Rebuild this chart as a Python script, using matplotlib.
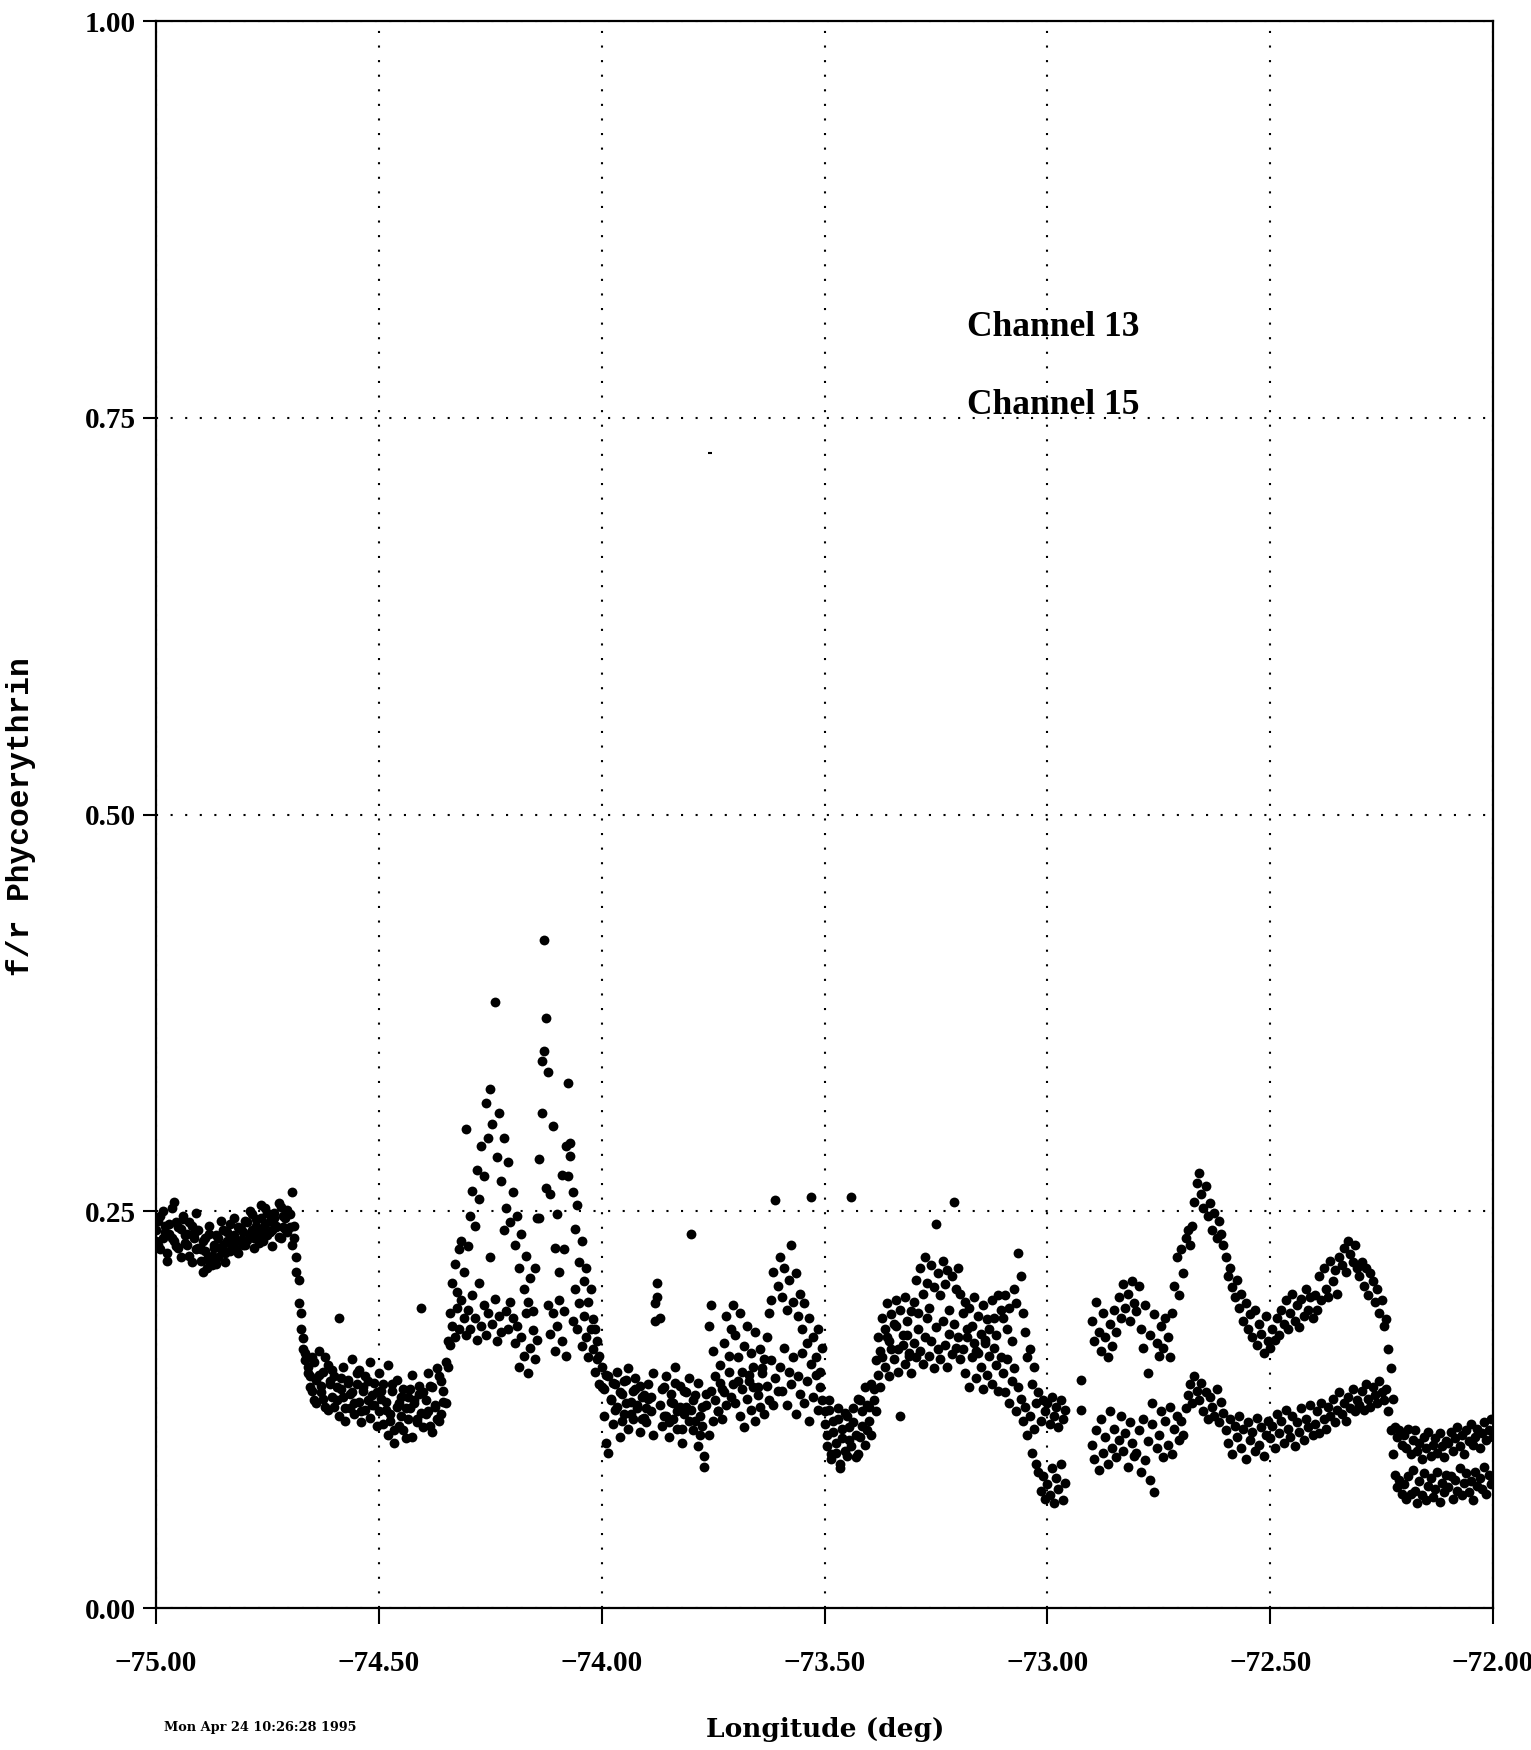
import numpy as np
import matplotlib.pyplot as plt

# f/r phycoerythrin along the track, in thousandths,
# one sample every 0.005 deg of longitude from -75.00 to -72.00 (None = no data)
ch13 = [
    238, 229, 247, 233, 241, 224, 236, 252, 231, 243, 227, 239, 245, 230, 236, 222, 241, 233, 226, 238,
    219, 231, 225, 214, 236, 222, 229, 217, 233, 226, 238, 224, 231, 242, 228, 235, 226, 240, 232, 237,
    229, 243, 236, 248, 233, 241, 230, 246, 239, 252, 235, 244, 238, 249, 241, 234, 253, 240, 246, 237,
    248, 262, 241, 212, 192, 176, 163, 156, 148, 139, 158, 131, 144, 162, 136, 149, 127, 153, 141, 133,
    146, 131, 183, 138, 152, 126, 144, 135, 157, 129, 141, 150, 124, 137, 146, 131, 155, 128, 142, 136,
    148, 132, 141, 125, 153, 118, 137, 112, 144, 129, 121, 138, 107, 133, 126, 147, 131, 119, 140, 189,
    136, 122, 148, 115, 139, 127, 151, 118, 143, 130, 155, 168, 186, 205, 217, 199, 226, 231, 212, 302,
    228, 247, 263, 241, 276, 258, 291, 272, 318, 296, 327, 305, 382, 284, 312, 269, 296, 252, 281, 243,
    262, 229, 247, 214, 236, 201, 222, 193, 208, 187, 214, 246, 283, 345, 421, 372, 338, 261, 304, 227,
    248, 212, 273, 226, 291, 331, 285, 262, 239, 254, 218, 231, 206, 214, 193, 201, 182, 176, 168, 159,
    152, 138, 104, 146, 131, 142, 125, 149, 136, 118, 143, 129, 151, 122, 137, 145, 128, 140, 119, 134,
    126, 141, 133, 148, 192, 205, 183, 138, 121, 146, 117, 135, 129, 152, 124, 140, 113, 137, 127, 145,
    236, 131, 118, 142, 109, 127, 96, 135, 178, 191, 162, 146, 124, 153, 138, 167, 184, 159, 176, 191,
    172, 158, 186, 149, 165, 178, 143, 161, 152, 174, 139, 163, 148, 157, 171, 186, 194, 212, 257, 203,
    221, 196, 214, 188, 207, 229, 193, 211, 184, 198, 176, 192, 167, 183, 259, 171, 158, 176, 149, 164,
    124, 109, 131, 97, 118, 104, 126, 88, 113, 99, 121, 106, 259, 117, 95, 132, 108, 124, 139, 112,
    127, 141, 138, 156, 171, 162, 183, 176, 192, 168, 185, 179, 194, 163, 188, 172, 196, 181, 159, 187,
    193, 207, 186, 214, 198, 221, 205, 189, 216, 202, 242, 211, 197, 219, 204, 213, 188, 209, 256, 201,
    214, 198, 186, 193, 171, 189, 178, 196, 162, 184, 173, 191, 167, 182, 176, 194, 183, 172, 197, 188,
    183, 197, 176, 189, 168, 201, 192, 224, 209, 186, 174, 158, 163, 141, 152, 129, 136, 118, 131, 124,
    129, 116, 133, 121, 127, 114, 131, 119, 125, None, None, None, None, None, None, 144, None, None, None, None,
    181, 168, 193, 174, 162, 186, 171, 158, 179, 165, 188, 174, 196, 183, 204, 189, 198, 181, 206, 192,
    187, 203, 176, 164, 191, 148, 172, 129, 185, 167, 159, 178, 164, 183, 171, 158, 186, 203, 221, 197,
    226, 211, 233, 238, 229, 241, 256, 268, 274, 261, 252, 266, 247, 255, 238, 249, 233, 244, 236, 229,
    221, 209, 214, 202, 196, 207, 189, 198, 181, 192, 176, 185, 171, 188, 166, 179, 173, 161, 184, 168,
    164, 176, 169, 183, 172, 188, 179, 194, 176, 186, 198, 181, 191, 177, 195, 184, 201, 188, 196, 183,
    197, 188, 209, 194, 214, 201, 196, 219, 206, 213, 198, 221, 216, 227, 212, 231, 223, 218, 229, 214,
    209, 218, 203, 214, 197, 211, 206, 193, 201, 186, 194, 178, 182, 163, 151, 132, 114, 108, 112, 103,
    109, 101, 113, 97, 106, 112, 99, 104, 94, 108, 101, 111, 96, 103, 107, 98, 110, 102, 95, 105,
    104, 111, 99, 107, 114, 102, 109, 97, 112, 105, 116, 103, 108, 113, 101, 110, 117, 106, 112, 119,
    108,
]

ch15 = [
    231, 244, 226, 250, 237, 219, 242, 233, 256, 228, 240, 221, 247, 235, 229, 243, 218, 236, 249, 227,
    226, 212, 233, 220, 241, 216, 227, 235, 221, 244, 229, 218, 237, 225, 233, 246, 231, 224, 239, 229,
    244, 232, 250, 238, 227, 245, 236, 254, 231, 242, 249, 237, 228, 246, 240, 255, 233, 247, 239, 251,
    240, 229, 233, 221, 207, 186, 170, 161, 152, 146, 137, 155, 129, 147, 140, 132, 158, 125, 143, 150,
    127, 139, 121, 145, 133, 118, 142, 126, 136, 122, 148, 130, 117, 139, 125, 143, 120, 134, 128, 115,
    124, 137, 116, 130, 109, 122, 141, 104, 127, 115, 133, 112, 126, 119, 138, 108, 129, 117, 135, 123,
    114, 131, 124, 140, 111, 128, 119, 146, 122, 137, 129, 152, 166, 178, 171, 189, 176, 194, 183, 172,
    188, 176, 197, 183, 169, 205, 178, 191, 172, 186, 221, 179, 195, 168, 184, 174, 238, 187, 176, 193,
    183, 167, 178, 152, 171, 159, 186, 148, 164, 175, 157, 169, 246, 312, 351, 265, 191, 173, 186, 162,
    178, 194, 168, 187, 159, 272, 293, 181, 201, 176, 192, 165, 184, 171, 158, 176, 163, 149, 157, 141,
    139, 121, 147, 98, 132, 116, 141, 127, 108, 135, 122, 144, 113, 130, 119, 138, 126, 111, 133, 120,
    117, 132, 124, 109, 181, 196, 128, 115, 139, 121, 108, 130, 119, 142, 113, 127, 104, 122, 136, 118,
    125, 112, 134, 102, 121, 115, 89, 128, 109, 137, 118, 131, 124, 142, 119, 136, 128, 149, 133, 141,
    129, 143, 121, 138, 114, 132, 147, 125, 139, 118, 134, 127, 151, 122, 140, 131, 156, 128, 145, 137,
    152, 137, 164, 128, 149, 141, 158, 122, 146, 135, 161, 129, 143, 118, 154, 133, 147, 125, 139, 131,
    116, 102, 125, 94, 111, 98, 119, 91, 107, 123, 96, 114, 102, 126, 109, 97, 131, 115, 103, 128,
    118, 109, 131, 124, 147, 139, 158, 152, 171, 146, 163, 157, 178, 149, 121, 166, 154, 172, 161, 148,
    167, 158, 176, 162, 154, 171, 183, 159, 168, 151, 177, 163, 157, 181, 166, 152, 173, 160, 179, 164,
    171, 157, 163, 148, 176, 139, 158, 167, 145, 161, 152, 138, 169, 147, 159, 141, 164, 153, 137, 158,
    148, 136, 157, 129, 143, 151, 124, 139, 132, 118, 127, 109, 121, 98, 113, 91, 86, 74, 83, 69,
    78, 71, 88, 66, 82, 75, 91, 68, 79, None, None, None, None, None, None, 125, None, None, None, None,
    103, 94, 112, 87, 119, 98, 108, 91, 124, 101, 113, 95, 106, 121, 99, 110, 89, 117, 104, 96,
    98, 112, 86, 119, 93, 105, 81, 116, 73, 101, 109, 124, 95, 118, 103, 127, 97, 113, 121, 106,
    118, 109, 126, 134, 141, 129, 146, 137, 131, 142, 124, 136, 119, 133, 127, 121, 138, 117, 130, 123,
    112, 104, 119, 97, 115, 108, 121, 101, 113, 94, 117, 106, 111, 99, 120, 103, 114, 96, 109, 118,
    107, 115, 101, 122, 110, 118, 104, 125, 113, 108, 121, 102, 117, 111, 126, 106, 119, 114, 128, 109,
    116, 124, 110, 129, 119, 113, 127, 121, 132, 117, 125, 136, 122, 129, 118, 133, 126, 138, 124, 131,
    128, 137, 125, 141, 132, 127, 139, 134, 129, 143, 136, 131, 138, 124, 112, 97, 84, 76, 81, 72,
    78, 69, 83, 72, 87, 74, 66, 80, 71, 85, 68, 77, 82, 70, 75, 86, 67, 79, 73, 84,
    76, 83, 69, 81, 74, 88, 71, 79, 85, 73, 80, 68, 86, 77, 82, 75, 89, 72, 84, 78,
    81,
]

# lone point well above the rest
stray_lon = [-73.757]
stray_val = [0.728]

xticks = [-75.0, -74.5, -74.0, -73.5, -73.0, -72.5, -72.0]
yticks = [0.0, 0.25, 0.50, 0.75, 1.00]

y13 = np.array(ch13, dtype=float) / 1000.0
y15 = np.array(ch15, dtype=float) / 1000.0
lon13 = np.linspace(-75.0, -72.0, len(y13))
lon15 = np.linspace(-75.0, -72.0, len(y15))

fig = plt.figure(figsize=(15.31, 17.5), dpi=100)
ax = fig.add_axes([0.1019, 0.0811, 0.8733, 0.9069])

ax.scatter(lon13, y13, s=50, color="black", linewidths=0)
ax.scatter(lon15, y15, s=50, color="black", linewidths=0)
ax.scatter(stray_lon, stray_val, s=12, marker="_", color="black")

ax.set_xlim(-75.0, -72.0)
ax.set_ylim(0.0, 1.0)
ax.set_xticks(xticks)
ax.set_yticks(yticks)
ax.set_xticklabels([("%.2f" % v).replace("-", "\u2212") for v in xticks])
ax.set_yticklabels(["%.2f" % v for v in yticks])

for lab in ax.get_xticklabels() + ax.get_yticklabels():
    lab.set_fontfamily("Liberation Serif")
    lab.set_fontweight("bold")
    lab.set_fontsize(21)

ax.tick_params(axis="x", direction="out", length=11.5, width=1.5, pad=19)
ax.tick_params(axis="y", direction="out", length=9.5, width=1.5, pad=5)
for sp in ax.spines.values():
    sp.set_linewidth(1.6)

ax.grid(True, linestyle=(0, (1, 6)), linewidth=1.5, color="black")
ax.set_axisbelow(True)

ax.text(-73.18, 0.807, "Channel 13", fontsize=25.5, fontweight="bold",
        family="Liberation Serif", va="center", ha="left")
ax.text(-73.18, 0.758, "Channel 15", fontsize=25.5, fontweight="bold",
        family="Liberation Serif", va="center", ha="left")

fig.text(21 / 1531, 1 - 817 / 1750, "f/r Phycoerythrin", rotation=90,
         fontsize=22.5, fontweight="bold", family="Liberation Mono", ha="center", va="center")
fig.text(825 / 1531, 1 - 1730 / 1750, "Longitude (deg)",
         fontsize=19, fontweight="bold", family="DejaVu Serif", ha="center", va="center")
fig.text(164 / 1531, 1 - 1727 / 1750, "Mon Apr 24 10:26:28 1995",
         fontsize=9.3, fontweight="bold", family="DejaVu Serif", ha="left", va="center")

fig.savefig("out.png", dpi=100)
